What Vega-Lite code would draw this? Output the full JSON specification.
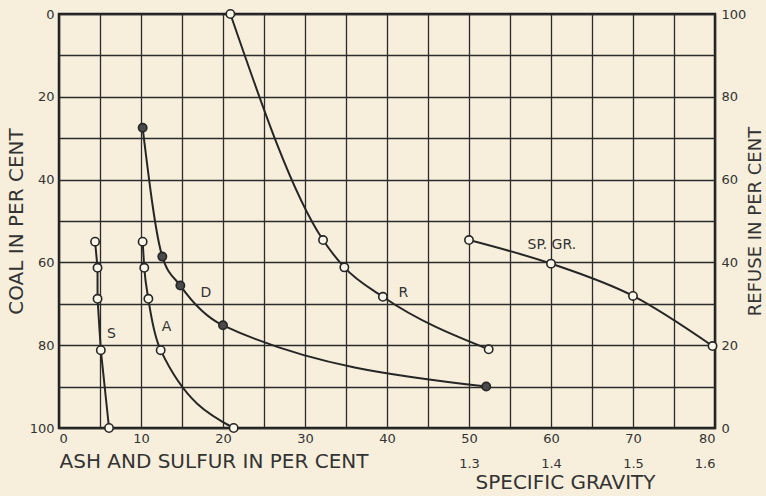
{
  "$schema": "https://vega.github.io/schema/vega-lite/v6.json",
  "width": 656,
  "height": 414,
  "autosize": "none",
  "padding": {"left": 59, "top": 14, "right": 51, "bottom": 68},
  "background": "#f7efdc",
  "config": {
    "view": {"stroke": "#1e1e1e", "strokeWidth": 2.5},
    "axis": {
      "labelFont": "DejaVu Sans",
      "titleFont": "DejaVu Sans",
      "labelColor": "#333333",
      "titleColor": "#333333",
      "labelFontSize": 13,
      "titleFontSize": 20,
      "titleFontWeight": "normal",
      "domain": false,
      "ticks": false,
      "gridColor": "#2b2b2b",
      "gridWidth": 1.3,
      "gridOpacity": 1
    }
  },
  "datasets": {
    "pts": [
      {"series": "S", "x": 4.4, "coal": 55, "kind": "open"},
      {"series": "S", "x": 4.7, "coal": 61.3, "kind": "open"},
      {"series": "S", "x": 4.7, "coal": 68.8, "kind": "open"},
      {"series": "S", "x": 5.1, "coal": 81.2, "kind": "open"},
      {"series": "S", "x": 6.1, "coal": 100, "kind": "open"},
      {"series": "A", "x": 10.2, "coal": 55, "kind": "open"},
      {"series": "A", "x": 10.4, "coal": 61.3, "kind": "open"},
      {"series": "A", "x": 10.9, "coal": 68.8, "kind": "open"},
      {"series": "A", "x": 12.4, "coal": 81.2, "kind": "open"},
      {"series": "A", "x": 21.3, "coal": 100, "kind": "open"},
      {"series": "D", "x": 10.2, "coal": 27.5, "kind": "solid"},
      {"series": "D", "x": 12.6, "coal": 58.6, "kind": "solid"},
      {"series": "D", "x": 14.8, "coal": 65.6, "kind": "solid"},
      {"series": "D", "x": 20.0, "coal": 75.2, "kind": "solid"},
      {"series": "D", "x": 52.1, "coal": 90, "kind": "solid"},
      {"series": "R", "x": 20.9, "coal": 0, "kind": "open"},
      {"series": "R", "x": 32.2, "coal": 54.6, "kind": "open"},
      {"series": "R", "x": 34.8, "coal": 61.2, "kind": "open"},
      {"series": "R", "x": 39.5, "coal": 68.3, "kind": "open"},
      {"series": "R", "x": 52.4, "coal": 81, "kind": "open"},
      {"series": "SP", "x": 50, "coal": 54.6, "kind": "open"},
      {"series": "SP", "x": 60, "coal": 60.3, "kind": "open"},
      {"series": "SP", "x": 70, "coal": 68.1, "kind": "open"},
      {"series": "SP", "x": 79.7, "coal": 80.2, "kind": "open"}
    ],
    "labels": [
      {"text": "S", "x": 6.4, "coal": 77.3},
      {"text": "A", "x": 13.1, "coal": 75.5},
      {"text": "D", "x": 17.9, "coal": 67.3},
      {"text": "R", "x": 42.0, "coal": 67.5},
      {"text": "SP. GR.", "x": 60.1, "coal": 55.8}
    ]
  },
  "layer": [
    {
      "data": {"name": "pts"},
      "transform": [{"filter": "datum.series != 'S'"}],
      "mark": {"type": "line", "interpolate": "monotone", "color": "#262626", "strokeWidth": 2},
      "encoding": {
        "x": {
          "field": "x", "type": "quantitative",
          "scale": {"domain": [0, 80], "nice": false},
          "axis": {
            "orient": "bottom",
            "values": [0, 5, 10, 15, 20, 25, 30, 35, 40, 45, 50, 55, 60, 65, 70, 75, 80],
            "labelExpr": "datum.value % 10 == 0 ? datum.label : ''",
            "grid": true,
            "labelPadding": 4,
            "title": "ASH AND SULFUR IN PER CENT",
            "titleAnchor": "start",
            "titlePadding": 6
          }
        },
        "y": {
          "field": "coal", "type": "quantitative",
          "scale": {"domain": [0, 100], "reverse": true, "nice": false},
          "axis": {
            "orient": "left",
            "values": [0, 10, 20, 30, 40, 50, 60, 70, 80, 90, 100],
            "labelExpr": "datum.value % 20 == 0 ? datum.label : ''",
            "grid": true,
            "labelPadding": 5,
            "title": "COAL IN PER CENT",
            "titlePadding": 3
          }
        },
        "detail": {"field": "series"}
      }
    },
    {
      "data": {"name": "pts"},
      "transform": [{"filter": "datum.series == 'S'"}],
      "mark": {"type": "line", "color": "#262626", "strokeWidth": 2},
      "encoding": {
        "x": {"field": "x", "type": "quantitative", "axis": null},
        "y": {"field": "coal", "type": "quantitative", "axis": null}
      }
    },
    {
      "data": {"name": "pts"},
      "mark": {"type": "point", "shape": "circle", "filled": false, "size": 70, "stroke": "#262626", "strokeWidth": 1.6, "opacity": 1},
      "encoding": {
        "x": {
          "field": "x", "type": "quantitative",
          "axis": {
            "orient": "bottom",
            "offset": 26,
            "values": [50, 60, 70, 80],
            "labelExpr": "datum.value == 50 ? '1.3' : datum.value == 60 ? '1.4' : datum.value == 70 ? '1.5' : '1.6'",
            "grid": false,
            "labelPadding": 3,
            "title": "SPECIFIC GRAVITY",
            "titleX": 506,
            "titleAnchor": null,
            "titleAlign": "center",
            "titlePadding": 2
          }
        },
        "y": {
          "field": "coal", "type": "quantitative",
          "axis": {
            "orient": "right",
            "values": [0, 20, 40, 60, 80, 100],
            "labelExpr": "format(100 - datum.value, 'd')",
            "grid": false,
            "labelPadding": 6,
            "title": "REFUSE IN PER CENT",
            "titleAngle": -90,
            "titleBaseline": "top",
            "titleFontSize": 18,
            "titlePadding": 1
          }
        },
        "fill": {
          "field": "kind", "type": "nominal",
          "scale": {"domain": ["open", "solid"], "range": ["#fbf6ea", "#4a4a4a"]},
          "legend": null
        }
      }
    },
    {
      "data": {"name": "labels"},
      "mark": {"type": "text", "font": "DejaVu Sans", "fontSize": 14, "color": "#333333"},
      "encoding": {
        "x": {"field": "x", "type": "quantitative", "axis": null},
        "y": {"field": "coal", "type": "quantitative", "axis": null},
        "text": {"field": "text"}
      }
    }
  ],
  "resolve": {"axis": {"x": "independent", "y": "independent"}}
}
